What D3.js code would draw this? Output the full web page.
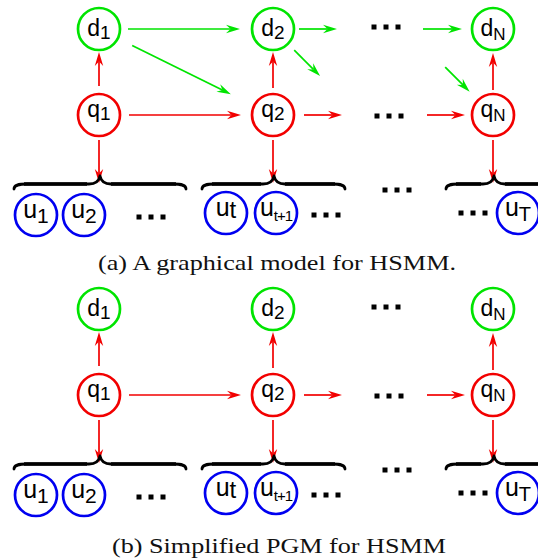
<!DOCTYPE html>
<html><head><meta charset="utf-8">
<script src="https://cdn.jsdelivr.net/npm/d3@7"></script>
<style>html,body{margin:0;padding:0;background:#fff;}svg{display:block;}</style>
</head><body><svg id="c" width="538" height="558"></svg>
<script>
// ---------------- data ----------------
const panels = ["a", "b"];
const captions = ["(a) A graphical model for HSMM.", "(b) Simplified PGM for HSMM"];
const columns = ["c1", "c2", "c3", "cM", "cN"];          // c3, cM = elided ("...") columns
const rows = ["d", "q", "brace", "u"];
// [id, row, column, letter, subscript]
const durationNodes = [["d1","d","c1","d","1"], ["d2","d","c2","d","2"], ["dN","d","cN","d","N"]];
const stateNodes    = [["q1","q","c1","q","1"], ["q2","q","c2","q","2"], ["qN","q","cN","q","N"]];
const obsSlots = ["u1", "u2", "ut", "ut1", "uT"];
const obsNodes = [["u1","u","1"], ["u2","u","2"], ["ut","u","t"], ["ut1","u","t+1"], ["uT","u","T"]];
const ghostNodes = [["d3","d","c3"], ["q3","q","c3"], ["dM","d","cM"], ["qM","q","cM"],
                    ["b1","brace","c1"], ["b2","brace","c2"], ["bN","brace","cN"]];
// edges: [from, to, colour, startGap, endGap, panels]
const edges = [
  ["q1","d1","red",29,23,"ab"], ["q2","d2","red",27,23,"ab"], ["qN","dN","red",25,24,"ab"],
  ["q1","q2","red",30,32,"ab"], ["q2","q3","red",31,17,"ab"], ["qM","qN","red",20,28,"ab"],
  ["q1","b1","red",25,1,"ab"], ["q2","b2","red",25,1,"ab"], ["qN","bN","red",25,1,"ab"],
  ["d1","d2","green",29,33,"a"], ["d1","q2","green",37,47,"a"], ["d2","d3","green",26,22,"a"],
  ["d2","q3","green",30,55,"a"], ["dM","dN","green",16,31,"a"], ["dM","qN","green",54,33,"a"]
];
// braces: [tip node, left reach, right reach]
const braces = [["b1",85,87], ["b2",71,72], ["bN",47,56]];
// ellipses "...": [row, slot]
const ellipses = [["d","e1"], ["q","e2"], ["brace","e3"], ["u","e4"], ["u","e5"], ["u","e6"]];

// ---------------- layout scales ----------------
const xCol = d3.scaleOrdinal().domain(columns).range([99, 273, 359, 407, 493]);
const yRow = d3.scaleOrdinal().domain(rows).range([29, 115, 184, 214]);
const yPanel = d3.scaleOrdinal().domain(panels).range([0, 280]);
const xObs = d3.scaleOrdinal().domain(obsSlots).range([36, 84, 226, 276, 518]);
const xEll = d3.scaleOrdinal().domain(["e1","e2","e3","e4","e5","e6"]).range([386, 389, 397, 151, 326, 473]);
const yEll = d3.scaleOrdinal().domain(["e1","e2","e3","e4","e5","e6"]).range([-2, 1, 6, 3, 1, -1]);
const colour = d3.scaleOrdinal().domain(["green","red","blue","d","q","u"])
  .range(["#00e400","#f20000","#0000f0","#00e400","#f20000","#0000f0"]);
const R = 21;

const svg = d3.select("#c");

function posOf(id, p) {
  const all = durationNodes.concat(stateNodes).concat(ghostNodes);
  const n = all.find(v => v[0] === id);
  return [xCol(n[2]), yRow(n[1]) + yPanel(p)];
}

function arrow(g, a, b, col) {
  const dx = b[0] - a[0], dy = b[1] - a[1], L = Math.hypot(dx, dy);
  const ux = dx / L, uy = dy / L, px = -uy, py = ux;
  const hl = 14, hw = 4.2, notch = 9.5;
  g.append("line").attr("x1", a[0]).attr("y1", a[1])
    .attr("x2", b[0] - ux * notch).attr("y2", b[1] - uy * notch)
    .attr("stroke", col).attr("stroke-width", 1.7);
  const pts = [[b[0], b[1]],
    [b[0] - ux * hl + px * hw, b[1] - uy * hl + py * hw],
    [b[0] - ux * notch, b[1] - uy * notch],
    [b[0] - ux * hl - px * hw, b[1] - uy * hl - py * hw]];
  g.append("path").attr("d", "M" + pts.map(p => p.join(",")).join("L") + "Z").attr("fill", col);
}

function bracePath(x1, x2, xm, y) {
  return `M${x1},${y+5} C${x1},${y+1} ${x1+4},${y} ${x1+13},${y} L${xm-11},${y}` +
    ` C${xm-4},${y} ${xm-1},${y-3} ${xm},${y-8}` +
    ` M${xm},${y-8} C${xm+1},${y-3} ${xm+4},${y} ${xm+11},${y} L${x2-13},${y}` +
    ` C${x2-4},${y} ${x2},${y+1} ${x2},${y+5}`;
}

function label(g, x, y, main, sub, mainSize, subSize, base, subDy, ls) {
  const t = g.append("text").attr("x", x).attr("y", y + base)
    .attr("text-anchor", "middle").attr("font-family", "'Liberation Sans', Arial, sans-serif")
    .attr("fill", "#000");
  t.append("tspan").attr("font-size", mainSize).text(main);
  t.append("tspan").attr("font-size", subSize).attr("dy", subDy)
    .attr("letter-spacing", ls || 0).text(sub);
}

panels.forEach((p, pi) => {
  const g = svg.append("g").attr("class", "panel-" + p);
  // edges
  edges.filter(e => e[5].includes(p)).forEach(e => {
    const a = posOf(e[0], p), b = posOf(e[1], p);
    const dx = b[0] - a[0], dy = b[1] - a[1], L = Math.hypot(dx, dy);
    const ux = dx / L, uy = dy / L;
    arrow(g, [a[0] + ux * e[3], a[1] + uy * e[3]], [b[0] - ux * e[4], b[1] - uy * e[4]], colour(e[2]));
  });
  // braces
  braces.forEach(b => {
    const t = posOf(b[0], p);
    g.append("path").attr("d", bracePath(t[0] - b[1], t[0] + b[2], t[0] + 1, t[1]))
      .attr("fill", "none").attr("stroke", "#000").attr("stroke-width", 2.8)
      .attr("stroke-linecap", "round");
    g.append("path").attr("d", `M${t[0]-b[1]+10},${t[1]} L${t[0]-12},${t[1]} M${t[0]+12},${t[1]} L${t[0]+b[2]-10},${t[1]}`)
      .attr("stroke", "#000").attr("stroke-width", 3.6);
  });
  // ellipses
  ellipses.forEach(e => {
    const cx = xEll(e[1]), cy = yRow(e[0]) + yPanel(p) + yEll(e[1]);
    [-12, 0, 12].forEach(o => g.append("rect").attr("x", cx + o - 2.5).attr("y", cy - 2.5)
      .attr("width", 5).attr("height", 5).attr("fill", "#000"));
  });
  // d and q nodes
  durationNodes.concat(stateNodes).forEach(n => {
    const [x, y] = posOf(n[0], p);
    g.append("circle").attr("cx", x).attr("cy", y).attr("r", R)
      .attr("fill", "#fff").attr("stroke", colour(n[1])).attr("stroke-width", 2.7);
    const isN = n[4] === "N";
    label(g, x, y, n[3], n[4], 23, isN ? 17 : 19, n[1] === "d" ? 6.5 : 2, isN ? 4 : 3);
  });
  // observation nodes
  obsNodes.forEach(n => {
    const x = xObs(n[0]), y = yRow("u") + yPanel(p) + (n[0] === "u1" || n[0] === "u2" ? 1 : -1);
    g.append("circle").attr("cx", x).attr("cy", y).attr("r", R)
      .attr("fill", "#fff").attr("stroke", colour("u")).attr("stroke-width", 2.7);
    const sz = n[2] === "t+1" ? 15 : (n[2] === "T" ? 20 : (n[2] === "t" ? 24 : 21));
    label(g, x, y, "u", n[2], 25, sz, 3, n[2] === "t" ? 2 : 5, n[2] === "t+1" ? -1 : 0);
  });
  // caption
  g.append("text").attr("x", 277 + pi * 2).attr("y", pi === 0 ? 270 : 553)
    .attr("text-anchor", "middle").attr("font-family", "'Liberation Serif', 'DejaVu Serif', serif")
    .attr("font-size", 21).attr("fill", "#111")
    .attr("textLength", pi === 0 ? 358 : 334).attr("lengthAdjust", "spacingAndGlyphs")
    .text(captions[pi]);
});
</script></body></html>
